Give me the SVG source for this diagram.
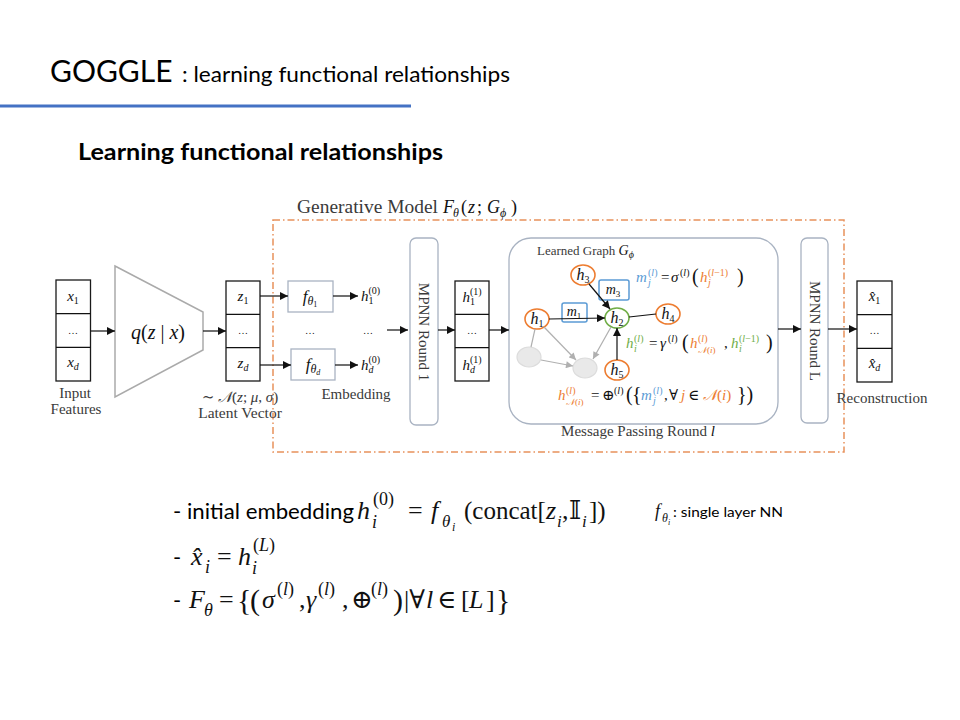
<svg xmlns="http://www.w3.org/2000/svg" width="960" height="720" viewBox="0 0 960 720">
<defs>
<marker id="ab" viewBox="0 0 10 10" refX="10" refY="5" markerWidth="9" markerHeight="8" markerUnits="userSpaceOnUse" orient="auto"><path d="M0,0L10,5L0,10z" fill="#111"/></marker>
<marker id="agm" viewBox="0 0 10 10" refX="10" refY="5" markerWidth="8" markerHeight="7" markerUnits="userSpaceOnUse" orient="auto"><path d="M0,0L10,5L0,10z" fill="#b0b0b0"/></marker>
</defs>
<style>
.sl{font-family:Lato,"Open Sans","Liberation Sans",sans-serif;fill:#000}
.s{font-family:"Liberation Serif","DejaVu Serif",serif;fill:#3a3a3a}
.m{font-family:"Liberation Serif","DejaVu Serif","DejaVu Sans",serif;fill:#111}
.i{font-style:italic}
.vec{fill:#fff;stroke:#1a1a1a;stroke-width:1.3}
.soft{fill:#fff;stroke:#a9b3c2;stroke-width:1.3}
.ar{stroke:#111;stroke-width:1.2;marker-end:url(#ab);fill:none}
.ln{stroke:#111;stroke-width:1.2;fill:none}
.ag{stroke:#b0b0b0;stroke-width:1.2;marker-end:url(#agm);fill:none}
.lg{stroke:#b0b0b0;stroke-width:1.2;fill:none}
.nd{fill:#fff;stroke:#ED7D31;stroke-width:1.6}
.ng{fill:#fff;stroke:#70AD47;stroke-width:1.6}
.gn{fill:#e9e9e9;stroke:#dcdcdc;stroke-width:1.2}
.mb{fill:#fff;stroke:#5B9BD5;stroke-width:1.5}
.o{fill:#ED7D31}.b{fill:#5B9BD5}.g{fill:#70AD47}
</style>
<rect width="960" height="720" fill="#fff"/>

<g id="title">
<text class="sl" x="50" y="82" font-size="30">GOGGLE</text>
<text class="sl" x="182" y="82" font-size="21.5" textLength="328" lengthAdjust="spacingAndGlyphs">: learning functional relationships</text>
<rect x="0" y="104.5" width="411" height="3" fill="#4472C4"/>
<text class="sl" x="78" y="160" font-size="23" font-weight="bold" textLength="365" lengthAdjust="spacingAndGlyphs">Learning functional relationships</text>
</g>

<g id="generative-model">
<rect x="273" y="220" width="571" height="232" fill="none" stroke="#E8915B" stroke-width="1.5" stroke-dasharray="7 3 1.5 3"/>
<text class="s" x="297" y="213" font-size="18" textLength="141" lengthAdjust="spacingAndGlyphs">Generative Model</text>
<text class="m" y="213" font-size="18"><tspan class="i" x="443">F</tspan><tspan class="i" font-size="12" x="453" y="217">θ</tspan><tspan x="461" y="213">(</tspan><tspan class="i" x="468">z</tspan><tspan x="477">;</tspan><tspan class="i" x="487">G</tspan><tspan class="i" font-size="12" x="500" y="217">ϕ</tspan><tspan x="511" y="213">)</tspan></text>
</g>

<g id="input-features">
<rect class="vec" x="56" y="280" width="34.5" height="101"/>
<line class="ln" x1="56" y1="313.7" x2="90.5" y2="313.7"/>
<line class="ln" x1="56" y1="347.3" x2="90.5" y2="347.3"/>
<text class="m" x="73" y="301" font-size="15" text-anchor="middle"><tspan class="i">x</tspan><tspan font-size="10" dy="3">1</tspan></text>
<text class="m" x="73" y="334" font-size="10" text-anchor="middle">…</text>
<text class="m" x="73" y="367" font-size="15" text-anchor="middle"><tspan class="i">x</tspan><tspan class="i" font-size="10" dy="3">d</tspan></text>
<text class="s" x="75" y="398" font-size="15" text-anchor="middle">Input</text>
<text class="s" x="76" y="414" font-size="15" text-anchor="middle">Features</text>
</g>

<g id="encoder">
<polygon points="115,266 203,312 203,350 115,397" fill="#fff" stroke="#aaaaaa" stroke-width="1.5"/>
<text class="m" x="158" y="339" font-size="20" text-anchor="middle"><tspan class="i">q</tspan>(<tspan class="i">z</tspan> | <tspan class="i">x</tspan>)</text>
</g>

<g id="latent-vector">
<rect class="vec" x="226" y="281" width="34" height="100"/>
<line class="ln" x1="226" y1="314.3" x2="260" y2="314.3"/>
<line class="ln" x1="226" y1="347.7" x2="260" y2="347.7"/>
<text class="m" x="243" y="301" font-size="15" text-anchor="middle"><tspan class="i">z</tspan><tspan font-size="10" dy="3">1</tspan></text>
<text class="m" x="243" y="334" font-size="10" text-anchor="middle">…</text>
<text class="m" x="243" y="368" font-size="15" text-anchor="middle"><tspan class="i">z</tspan><tspan class="i" font-size="10" dy="3">d</tspan></text>
<text class="s" x="240" y="402" font-size="15" text-anchor="middle">∼ <tspan class="i">𝒩</tspan>(<tspan class="i">z</tspan>; <tspan class="i">μ</tspan>, <tspan class="i">σ</tspan>)</text>
<text class="s" x="240" y="418" font-size="15.5" text-anchor="middle">Latent Vector</text>
</g>

<g id="embedding">
<rect class="soft" x="288" y="281" width="45" height="31"/>
<rect class="soft" x="291" y="349" width="44" height="31"/>
<text class="m" x="310" y="302" font-size="17" text-anchor="middle"><tspan class="i">f</tspan><tspan class="i" font-size="12" dy="3">θ</tspan><tspan font-size="8" dy="2">1</tspan></text>
<text class="m" x="313" y="370" font-size="17" text-anchor="middle"><tspan class="i">f</tspan><tspan class="i" font-size="12" dy="3">θ</tspan><tspan class="i" font-size="8" dy="2">d</tspan></text>
<text class="m" x="361" y="301" font-size="15"><tspan class="i">h</tspan><tspan font-size="10" dy="-7">(0)</tspan><tspan font-size="10" dx="-11.7" dy="10">1</tspan></text>
<text class="m" x="361" y="370" font-size="15"><tspan class="i">h</tspan><tspan font-size="10" dy="-7">(0)</tspan><tspan class="i" font-size="10" dx="-11.7" dy="10">d</tspan></text>
<text class="m" x="310" y="334" font-size="10" text-anchor="middle">…</text>
<text class="m" x="368" y="334" font-size="10" text-anchor="middle">…</text>
<text class="s" x="356" y="399" font-size="15" text-anchor="middle">Embedding</text>
</g>

<g id="mpnn-round-1">
<rect class="soft" x="410" y="238" width="28" height="187" rx="6"/>
<text class="s" transform="translate(424,332) rotate(90)" font-size="15" text-anchor="middle" dominant-baseline="central">MPNN Round 1</text>
</g>

<g id="hidden-vector">
<rect class="vec" x="455" y="281" width="34" height="100"/>
<line class="ln" x1="455" y1="314.3" x2="489" y2="314.3"/>
<line class="ln" x1="455" y1="347.7" x2="489" y2="347.7"/>
<text class="m" x="472" y="302" font-size="15" text-anchor="middle"><tspan class="i">h</tspan><tspan font-size="10" dy="-7">(1)</tspan><tspan font-size="10" dx="-11.7" dy="10">1</tspan></text>
<text class="m" x="472" y="334" font-size="10" text-anchor="middle">…</text>
<text class="m" x="472" y="370" font-size="15" text-anchor="middle"><tspan class="i">h</tspan><tspan font-size="10" dy="-7">(1)</tspan><tspan class="i" font-size="10" dx="-11.7" dy="10">d</tspan></text>
</g>

<g id="message-passing">
<rect class="soft" x="509" y="238" width="269" height="186" rx="22"/>
<text class="s" x="537" y="255" font-size="13">Learned Graph <tspan class="m i" font-size="14">G</tspan><tspan class="m i" font-size="10" dy="3">ϕ</tspan></text>
<text class="s" x="638" y="436" font-size="15" text-anchor="middle">Message Passing Round <tspan class="m i">l</tspan></text>
<text class="m" y="282" font-size="15"><tspan class="i b" x="636">m</tspan><tspan class="b" font-size="10" x="648" y="276">(<tspan class="i">l</tspan>)</tspan><tspan class="i b" font-size="10" x="648" y="286">j</tspan><tspan x="661" y="282">=</tspan><tspan class="i" x="671">σ</tspan><tspan font-size="10" x="680" y="276">(<tspan class="i">l</tspan>)</tspan><tspan font-size="20" x="692" y="283">(</tspan><tspan class="i o" x="700" y="282">h</tspan><tspan class="o" font-size="10" x="708" y="276">(<tspan class="i">l</tspan>−1)</tspan><tspan class="i o" font-size="10" x="708" y="286">j</tspan><tspan font-size="20" x="737" y="283">)</tspan></text>
<text class="m" y="348" font-size="15"><tspan class="i g" x="626">h</tspan><tspan class="g" font-size="10" x="634" y="342">(<tspan class="i">l</tspan>)</tspan><tspan class="i g" font-size="10" x="634" y="352">i</tspan><tspan x="649" y="348">=</tspan><tspan class="i" x="660">γ</tspan><tspan font-size="10" x="668" y="342">(<tspan class="i">l</tspan>)</tspan><tspan font-size="20" x="682" y="349">(</tspan><tspan class="i o" x="690" y="348">h</tspan><tspan class="o" font-size="10" x="698" y="342">(<tspan class="i">l</tspan>)</tspan><tspan class="o" font-size="9" x="698" y="353"><tspan class="i">𝒩</tspan>(<tspan class="i">i</tspan>)</tspan><tspan x="724" y="348">,</tspan><tspan class="i g" x="731">h</tspan><tspan class="g" font-size="10" x="739" y="342">(<tspan class="i">l</tspan>−1)</tspan><tspan class="i g" font-size="10" x="739" y="352">i</tspan><tspan font-size="20" x="766" y="349">)</tspan></text>
<text class="m" y="400" font-size="15"><tspan class="i o" x="558">h</tspan><tspan class="o" font-size="10" x="566" y="394">(<tspan class="i">l</tspan>)</tspan><tspan class="o" font-size="9" x="566" y="405"><tspan class="i">𝒩</tspan>(<tspan class="i">i</tspan>)</tspan><tspan x="591" y="400">=</tspan><tspan x="602">⊕</tspan><tspan font-size="10" x="614" y="394">(<tspan class="i">l</tspan>)</tspan><tspan font-size="20" x="626" y="401">(</tspan><tspan font-size="20" x="632">{</tspan><tspan class="i b" x="641" y="400">m</tspan><tspan class="b" font-size="10" x="653" y="394">(<tspan class="i">l</tspan>)</tspan><tspan class="i b" font-size="10" x="653" y="404">j</tspan><tspan x="664" y="400">,</tspan><tspan x="669">∀</tspan><tspan class="i o" x="681">j</tspan><tspan x="688">∈</tspan><tspan class="o" x="703"><tspan class="i">𝒩</tspan>(<tspan class="i">i</tspan>)</tspan><tspan font-size="20" x="737" y="401">})</tspan></text>
</g>

<g id="graph-nodes">
<g id="node-g1"><ellipse class="gn" cx="529" cy="357" rx="12" ry="10"/></g>
<g id="node-g2"><ellipse class="gn" cx="585" cy="368" rx="12" ry="10"/></g>
<g id="node-h3"><ellipse class="nd" cx="583" cy="275" rx="12" ry="10"/><text class="m" x="583" y="280" font-size="16" text-anchor="middle"><tspan class="i">h</tspan><tspan font-size="10" dy="3">3</tspan></text></g>
<g id="node-h1"><ellipse class="nd" cx="537" cy="319" rx="12" ry="10"/><text class="m" x="537" y="324" font-size="16" text-anchor="middle"><tspan class="i">h</tspan><tspan font-size="10" dy="3">1</tspan></text></g>
<g id="node-h2"><ellipse class="ng" cx="617" cy="318" rx="12" ry="10"/><text class="m" x="617" y="323" font-size="16" text-anchor="middle"><tspan class="i">h</tspan><tspan font-size="10" dy="3">2</tspan></text></g>
<g id="node-h4"><ellipse class="nd" cx="668" cy="314" rx="12" ry="10"/><text class="m" x="668" y="319" font-size="16" text-anchor="middle"><tspan class="i">h</tspan><tspan font-size="10" dy="3">4</tspan></text></g>
<g id="node-h5"><ellipse class="nd" cx="617" cy="370" rx="12" ry="10"/><text class="m" x="617" y="375" font-size="16" text-anchor="middle"><tspan class="i">h</tspan><tspan font-size="10" dy="3">5</tspan></text></g>
<g id="msg-m1"><rect class="mb" x="562" y="303" width="25" height="19" rx="2"/><text class="m" x="574" y="316" font-size="14" text-anchor="middle"><tspan class="i">m</tspan><tspan font-size="9" dy="3">1</tspan></text></g>
<g id="msg-m3"><rect class="mb" x="599" y="280" width="30" height="20" rx="2"/><text class="m" x="613" y="294" font-size="14" text-anchor="middle"><tspan class="i">m</tspan><tspan font-size="9" dy="3">3</tspan></text></g>
</g>

<g id="mpnn-round-L">
<rect class="soft" x="801" y="238" width="27" height="185" rx="6"/>
<text class="s" transform="translate(814.5,331) rotate(90)" font-size="15" text-anchor="middle" dominant-baseline="central">MPNN Round L</text>
</g>

<g id="reconstruction">
<rect class="vec" x="857" y="281" width="35" height="101"/>
<line class="ln" x1="857" y1="314.7" x2="892" y2="314.7"/>
<line class="ln" x1="857" y1="348.3" x2="892" y2="348.3"/>
<text class="m" x="874.5" y="301" font-size="15" text-anchor="middle"><tspan class="i">x̂</tspan><tspan font-size="10" dy="3">1</tspan></text>
<text class="m" x="874.5" y="334" font-size="10" text-anchor="middle">…</text>
<text class="m" x="874.5" y="368" font-size="15" text-anchor="middle"><tspan class="i">x̂</tspan><tspan class="i" font-size="10" dy="3">d</tspan></text>
<text class="s" x="882" y="403" font-size="15" text-anchor="middle">Reconstruction</text>
</g>

<g id="connectors">
<line class="ar" x1="90.5" y1="331" x2="115" y2="331"/>
<line class="ar" x1="203" y1="331" x2="226" y2="331"/>
<line class="ar" x1="260" y1="296" x2="288" y2="296"/>
<line class="ar" x1="260" y1="365" x2="291" y2="365"/>
<line class="ar" x1="333" y1="296" x2="358" y2="296"/>
<line class="ar" x1="335" y1="365" x2="358" y2="365"/>
<line class="ar" x1="387" y1="330" x2="408" y2="330"/>
<line class="ar" x1="438" y1="330" x2="455" y2="330"/>
<line class="ar" x1="489" y1="330" x2="509" y2="330"/>
<line class="ar" x1="778" y1="329" x2="801" y2="329"/>
<line class="ar" x1="828" y1="329" x2="857" y2="329"/>
<line class="ar" x1="549" y1="319" x2="605" y2="318"/>
<line class="ar" x1="589" y1="284" x2="610" y2="309"/>
<line class="ln" x1="629" y1="317" x2="656" y2="314"/>
<line class="ar" x1="617" y1="360" x2="617" y2="328"/>
<line class="lg" x1="535" y1="329" x2="531" y2="347"/>
<line class="ag" x1="544" y1="327" x2="576" y2="360"/>
<line class="ag" x1="541" y1="360" x2="573" y2="366"/>
<line class="ag" x1="611" y1="327" x2="593" y2="359"/>
</g>

<g id="notes">
<text class="sl" x="173" y="519" font-size="22" textLength="181" lengthAdjust="spacingAndGlyphs">- initial embedding</text>
<text class="m" y="519" font-size="26"><tspan class="i" x="357">h</tspan><tspan font-size="18" x="373" y="505">(0)</tspan><tspan class="i" font-size="18" x="372" y="528">i</tspan><tspan x="408" y="519">=</tspan><tspan class="i" x="431">f</tspan><tspan class="i" font-size="17" x="442" y="527">θ</tspan><tspan class="i" font-size="12" x="452" y="531">i</tspan><tspan font-size="25" x="464" y="519">(concat[</tspan><tspan class="i" x="546">z</tspan><tspan class="i" font-size="17" x="557" y="527">i</tspan><tspan x="562" y="519">,</tspan><tspan x="569">𝕀</tspan><tspan class="i" font-size="17" x="582" y="527">i</tspan><tspan font-size="25" x="589" y="519">])</tspan></text>
<text class="m" y="517" font-size="18"><tspan class="i" x="655">f</tspan><tspan class="i" font-size="12" x="662" y="522">θ</tspan><tspan class="i" font-size="8" x="668" y="525">i</tspan></text>
<text class="sl" x="673" y="517" font-size="14" textLength="110" lengthAdjust="spacingAndGlyphs">: single layer NN</text>
<text class="sl" x="173" y="565" font-size="22">-</text>
<text class="m" y="565" font-size="26"><tspan class="i" x="191">x̂</tspan><tspan class="i" font-size="18" x="205" y="573">i</tspan><tspan x="217" y="565">=</tspan><tspan class="i" x="238">h</tspan><tspan font-size="18" x="253" y="551">(<tspan class="i">L</tspan>)</tspan><tspan class="i" font-size="18" x="252" y="574">i</tspan></text>
<text class="sl" x="173" y="608" font-size="22">-</text>
<text class="m" y="608" font-size="26"><tspan class="i" x="189">F</tspan><tspan class="i" font-size="18" x="204" y="616">θ</tspan><tspan x="219" y="608">=</tspan><tspan font-size="30" x="237" y="610">{</tspan><tspan font-size="30" x="250">(</tspan><tspan class="i" x="262" y="608">σ</tspan><tspan font-size="18" x="277" y="595">(<tspan class="i">l</tspan>)</tspan><tspan x="299" y="608">,</tspan><tspan class="i" x="306">γ</tspan><tspan font-size="18" x="318" y="595">(<tspan class="i">l</tspan>)</tspan><tspan x="342" y="608">,</tspan><tspan x="351">⊕</tspan><tspan font-size="18" x="371" y="595">(<tspan class="i">l</tspan>)</tspan><tspan font-size="30" x="393" y="610">)</tspan><tspan x="404" y="608">|∀</tspan><tspan class="i" x="426">l</tspan><tspan x="437">∈</tspan><tspan x="461">[</tspan><tspan class="i" x="469">L</tspan><tspan x="486">]</tspan><tspan font-size="30" x="496" y="610">}</tspan></text>
</g>
</svg>
